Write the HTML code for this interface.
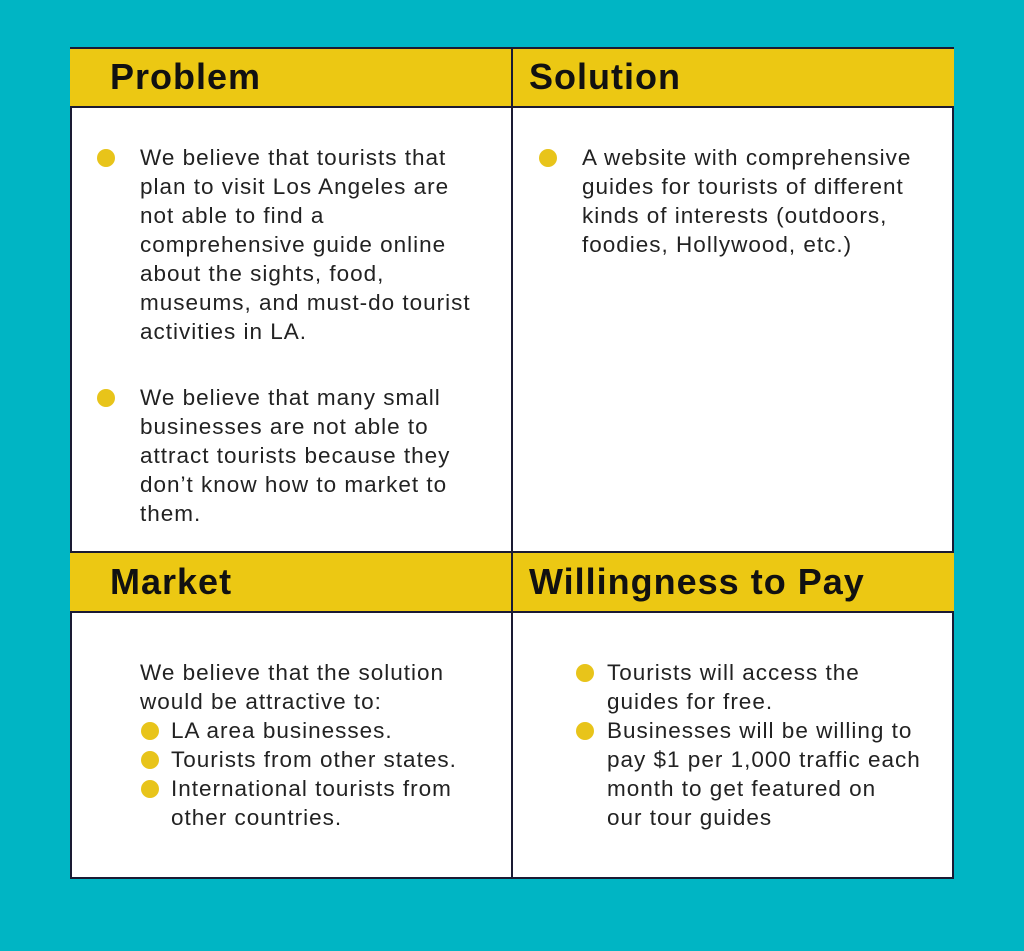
<!DOCTYPE html>
<html><head><style>
body{margin:0;width:1024px;height:951px;background:#00b5c4;position:relative;overflow:hidden;font-family:"Liberation Sans",sans-serif;color:#1b1b1b}
.box{position:absolute;left:70px;top:47px;width:880px;height:828px;border:2px solid #1a1a33;background:#fff}
.hd{position:absolute;left:70px;width:884px;height:58px;background:#ecc813;border-top:2px solid #1a1a33;border-bottom:2px solid #1a1a33;box-sizing:border-box}
.vl{position:absolute;left:511px;top:47px;width:2px;height:831px;background:#1a1a33}
.h{position:absolute;font-weight:bold;font-size:36px;letter-spacing:1px;line-height:40px;color:#111}
.t{position:absolute;font-size:22.5px;letter-spacing:1px;line-height:29px;white-space:nowrap;color:#222}
.d{position:absolute;width:18px;height:18px;border-radius:50%;background:#e8c41a}
</style></head><body>
<div class="box"></div>
<div class="hd" style="top:47px;height:61px"></div>
<div class="hd" style="top:551px;height:62px"></div>
<div class="vl"></div>
<div class="h" style="left:110px;top:57px">Problem</div>
<div class="h" style="left:529px;top:57px">Solution</div>
<div class="h" style="left:110px;top:562px">Market</div>
<div class="h" style="left:529px;top:562px">Willingness to Pay</div>

<div class="d" style="left:97px;top:149px"></div>
<div class="t" style="left:140px;top:143px">We believe that tourists that<br>plan to visit Los Angeles are<br>not able to find a<br>comprehensive guide online<br>about the sights, food,<br>museums, and must-do tourist<br>activities in LA.</div>
<div class="d" style="left:97px;top:389px"></div>
<div class="t" style="left:140px;top:383px">We believe that many small<br>businesses are not able to<br>attract tourists because they<br>don’t know how to market to<br>them.</div>

<div class="d" style="left:539px;top:149px"></div>
<div class="t" style="left:582px;top:143px">A website with comprehensive<br>guides for tourists of different<br>kinds of interests (outdoors,<br>foodies, Hollywood, etc.)</div>

<div class="t" style="left:140px;top:658px">We believe that the solution<br>would be attractive to:</div>
<div class="d" style="left:141px;top:722px"></div>
<div class="d" style="left:141px;top:751px"></div>
<div class="d" style="left:141px;top:780px"></div>
<div class="t" style="left:171px;top:716px">LA area businesses.<br>Tourists from other states.<br>International tourists from<br>other countries.</div>

<div class="d" style="left:576px;top:664px"></div>
<div class="d" style="left:576px;top:722px"></div>
<div class="t" style="left:607px;top:658px">Tourists will access the<br>guides for free.<br>Businesses will be willing to<br>pay $1 per 1,000 traffic each<br>month to get featured on<br>our tour guides</div>
</body></html>
